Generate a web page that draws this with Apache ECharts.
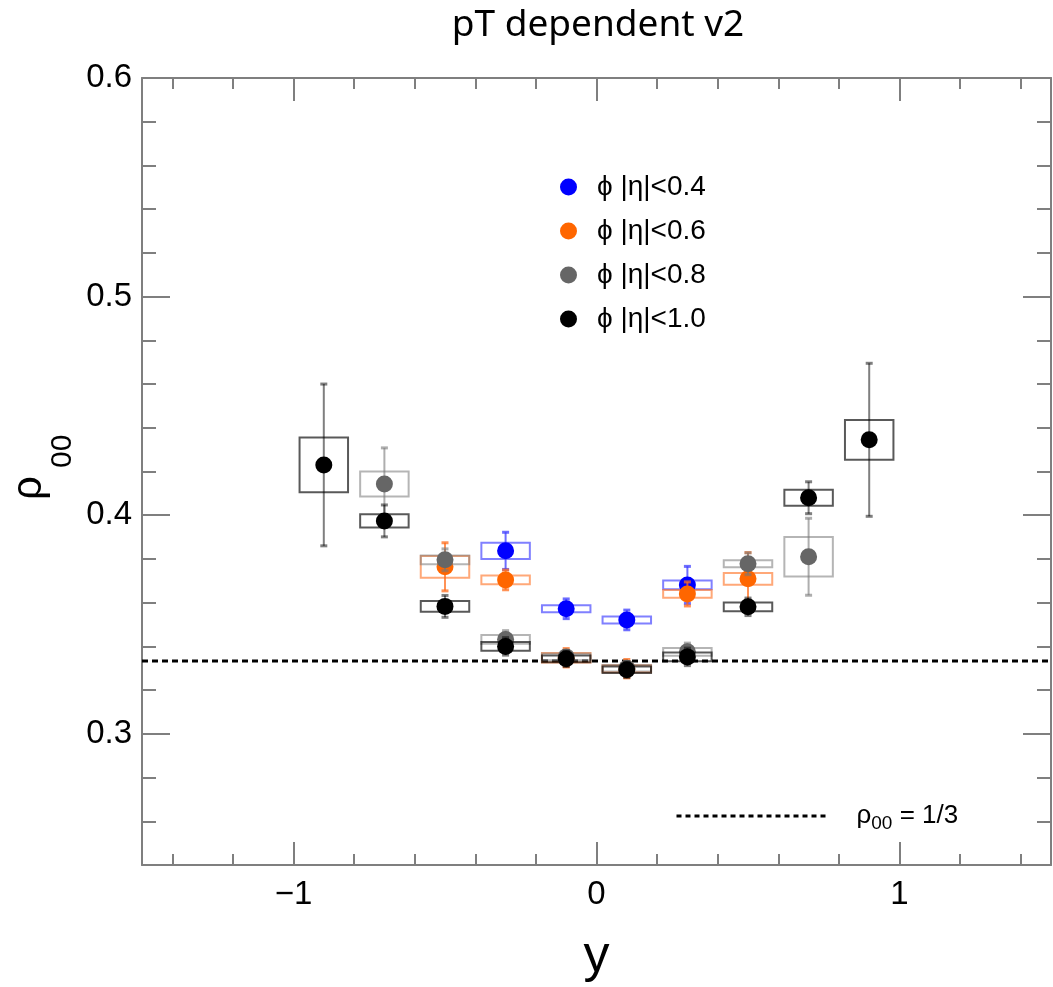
<!DOCTYPE html>
<html>
<head>
<meta charset="utf-8">
<script src="https://cdn.jsdelivr.net/npm/echarts@6/dist/echarts.min.js"></script>
<style>
html, body { margin: 0; padding: 0; background: #fff; }
#main { width: 1053px; height: 987px; }
</style>
</head>
<body>
<div id="main"></div>
<script>
// |eta| < 0.4
var xEta04 = [-0.3, -0.1, 0.1, 0.3];
var rhoEta04 = [0.3837, 0.3572, 0.3521, 0.3681];
var statEta04 = [0.0085, 0.0045, 0.0045, 0.0085];
var sysEta04 = [0.0037, 0.0016, 0.0016, 0.002];

// |eta| < 0.6
var xEta06 = [-0.5, -0.3, -0.1, 0.1, 0.3, 0.5];
var rhoEta06 = [0.3764, 0.3704, 0.3348, 0.3298, 0.3640, 0.3709];
var statEta06 = [0.011, 0.0045, 0.0042, 0.0042, 0.0055, 0.012];
var sysEta06 = [0.005, 0.002, 0.0022, 0.0016, 0.0018, 0.0027];

// |eta| < 0.8
var xEta08 = [-0.7, -0.5, -0.3, -0.1, 0.1, 0.3, 0.5, 0.7];
var rhoEta08 = [0.4143, 0.3796, 0.3432, 0.3352, 0.3300, 0.3375, 0.3778, 0.3810];
var statEta08 = [0.0165, 0.005, 0.004, 0.003, 0.003, 0.004, 0.005, 0.0176];
var sysEta08 = [0.0057, 0.002, 0.002, 0.0015, 0.0015, 0.0018, 0.0016, 0.009];

// |eta| < 1.0
var xEta10 = [-0.9, -0.7, -0.5, -0.3, -0.1, 0.1, 0.3, 0.5, 0.7, 0.9];
var rhoEta10 = [0.4230, 0.3974, 0.3583, 0.3400, 0.3343, 0.3293, 0.3352, 0.3581, 0.4080, 0.4345];
var statEta10 = [0.037, 0.0073, 0.005, 0.004, 0.0035, 0.0035, 0.004, 0.004, 0.0073, 0.035];
var sysEta10 = [0.0125, 0.003, 0.0025, 0.002, 0.0015, 0.0015, 0.002, 0.002, 0.0037, 0.0091];

// rho00 = 1/3 reference
var refX = [-1.5, 1.5];
var refRho = [1 / 3, 1 / 3];

// ticks
var xMajorTicks = [-1, 0, 1];
var xMinorTicks = [-1.4, -1.2, -0.8, -0.6, -0.4, -0.2, 0.2, 0.4, 0.6, 0.8, 1.2, 1.4];
var yMajorTicks = [0.3, 0.4, 0.5, 0.6];
var yMinorTicks = [0.26, 0.28, 0.32, 0.34, 0.36, 0.38, 0.42, 0.44, 0.46, 0.48, 0.52, 0.54, 0.56, 0.58];

var FONT = 'Liberation Sans';
var AXIS_COLOR = '#7f7f7f';
var BOX_HALF = 0.08; // half width of the systematic boxes (in y units)

function zip() {
    var cols = arguments;
    return cols[0].map(function (_, i) {
        var row = [];
        for (var k = 0; k < cols.length; k++) row.push(cols[k][i]);
        return row;
    });
}

function xAxisOf (position, ticks, len, withLine, withLabel) {
    return {
        type: 'value', position: position, min: -1.5, max: 1.5,
        axisLine: { show: withLine, onZero: false, lineStyle: { color: AXIS_COLOR, width: 2 } },
        axisTick: { show: true, inside: true, length: len, customValues: ticks,
            lineStyle: { color: AXIS_COLOR, width: 2 } },
        axisLabel: { show: withLabel, customValues: ticks, margin: 13, color: '#000',
            fontSize: 33, fontFamily: FONT,
            formatter: function (v) { return v < 0 ? '\u2212' + Math.abs(v) : String(v) } },
        splitLine: { show: false }
    }
}

function yAxisOf (position, ticks, len, withLine, withLabel) {
    return {
        type: 'value', position: position, min: 0.24, max: 0.6,
        axisLine: { show: withLine, onZero: false, lineStyle: { color: AXIS_COLOR, width: 2 } },
        axisTick: { show: true, inside: true, length: len, customValues: ticks,
            lineStyle: { color: AXIS_COLOR, width: 2 } },
        axisLabel: { show: withLabel, customValues: ticks, margin: 10, color: '#000',
            fontSize: 33, fontFamily: FONT,
            formatter: function (v) { return v.toFixed(1) } },
        splitLine: { show: false }
    }
}

// box (systematic) + bar (statistical) for one set
function errorSeries (name, xs, vals, stat, sys, boxColor, barColor, z) {
    return {
        name: name,
        type: 'custom',
        z: z,
        encode: { x: 0, y: 1 },
        data: zip(xs, vals, stat, sys),
        renderItem: function (params, api) {
            var x = api.value(0), v = api.value(1), e = api.value(2), s = api.value(3);
            var c = api.coord([x, v]);
            var top = api.coord([x, v + e]);
            var bot = api.coord([x, v - e]);
            var lt = api.coord([x - BOX_HALF, v + s]);
            var rb = api.coord([x + BOX_HALF, v - s]);
            return {
                type: 'group',
                children: [
                    { type: 'line', shape: { x1: c[0], y1: top[1], x2: c[0], y2: bot[1] },
                        style: { stroke: barColor, lineWidth: 2 } },
                    { type: 'line', shape: { x1: c[0] - 3.5, y1: top[1], x2: c[0] + 3.5, y2: top[1] },
                        style: { stroke: barColor, lineWidth: 3 } },
                    { type: 'line', shape: { x1: c[0] - 3.5, y1: bot[1], x2: c[0] + 3.5, y2: bot[1] },
                        style: { stroke: barColor, lineWidth: 3 } },
                    { type: 'rect', shape: { x: lt[0], y: lt[1], width: rb[0] - lt[0], height: rb[1] - lt[1] },
                        style: { fill: 'none', stroke: boxColor, lineWidth: 2 } }
                ]
            }
        }
    }
}

function pointSeries (name, xs, vals, color, z) {
    return {
        name: name,
        type: 'scatter',
        z: z,
        symbol: 'circle',
        symbolSize: 17,
        itemStyle: { color: color, opacity: 1 },
        data: zip(xs, vals)
    }
}

var names = ['\u03D5 |\u03B7|<0.4', '\u03D5 |\u03B7|<0.6', '\u03D5 |\u03B7|<0.8', '\u03D5 |\u03B7|<1.0'];

var myChart = echarts.init(document.getElementById('main'));
myChart.setOption({
    backgroundColor: '#fff',
    animation: false,
    title: {
        text: 'pT dependent v2',
        left: 593, top: 2, textAlign: 'center',
        textStyle: { fontSize: 37, fontWeight: 'normal', color: '#000', fontFamily: 'Noto Sans' }
    },
    grid: { left: 142, right: 2, top: 78, bottom: 122, containLabel: false, outerBoundsMode: 'none' },
    legend: [
        {
            data: names.map(function (n) { return { name: n, icon: 'circle' } }),
            orient: 'vertical',
            left: 560, top: 173, padding: 0,
            itemWidth: 17, itemHeight: 17, itemGap: 16,
            textStyle: { fontSize: 28, fontFamily: FONT, color: '#000', padding: [0, 0, 0, 15] },
            selectedMode: false
        },
        {
            data: ['rho00'],
            left: 675, top: 803, padding: 0,
            itemWidth: 150, itemHeight: 10,
            selectedMode: false,
            itemStyle: { opacity: 0 },
            lineStyle: { color: '#000', width: 3, type: [5, 4] },
            formatter: function () { return '{a|\u03C1}{b|00}{a| = 1/3}' },
            textStyle: {
                color: '#000', fontFamily: FONT, padding: [0, 0, 0, 25],
                rich: {
                    a: { fontSize: 26, fontFamily: FONT, color: '#000' },
                    b: { fontSize: 19, fontFamily: FONT, color: '#000', padding: [16, 0, 0, 0] }
                }
            }
        }
    ],
    xAxis: [
        Object.assign(xAxisOf('bottom', xMajorTicks, 23, true, true), {
            name: 'y', nameLocation: 'middle', nameGap: 66,
            nameTextStyle: { fontSize: 52, fontFamily: FONT, color: '#000' }
        }),
        xAxisOf('bottom', xMinorTicks, 11, false, false),
        xAxisOf('top', xMajorTicks, 23, true, false),
        xAxisOf('top', xMinorTicks, 11, false, false)
    ],
    yAxis: [
        yAxisOf('left', yMajorTicks, 28, true, true),
        yAxisOf('left', yMinorTicks, 14, false, false),
        yAxisOf('right', yMajorTicks, 28, true, false),
        yAxisOf('right', yMinorTicks, 14, false, false)
    ],
    graphic: [
        {
            type: 'group', x: 43, y: 500, rotation: Math.PI / 2,
            children: [
                { type: 'text', x: 0, y: -14,
                    style: { text: '\u03C1', font: '42px "Liberation Sans"', fill: '#000',
                        align: 'left', verticalAlign: 'middle' } },
                { type: 'text', x: 32, y: 20,
                    style: { text: '00', font: '30px "Liberation Sans"', fill: '#000',
                        align: 'left', verticalAlign: 'middle' } }
            ]
        }
    ],
    series: [
        pointSeries(names[0], xEta04, rhoEta04, '#0000ff', 11),
        pointSeries(names[1], xEta06, rhoEta06, '#ff6600', 13),
        pointSeries(names[2], xEta08, rhoEta08, '#666666', 15),
        pointSeries(names[3], xEta10, rhoEta10, '#000000', 17),
        {
            name: 'rho00',
            type: 'line',
            z: 5,
            symbol: 'none',
            silent: true,
            lineStyle: { color: '#000', width: 3, type: [6, 4] },
            data: zip(refX, refRho)
        },
        errorSeries(names[0], xEta04, rhoEta04, statEta04, sysEta04, 'rgba(60,60,255,0.65)', 'rgba(60,60,255,0.75)', 10),
        errorSeries(names[1], xEta06, rhoEta06, statEta06, sysEta06, 'rgba(255,110,30,0.6)', 'rgba(255,110,30,0.75)', 12),
        errorSeries(names[2], xEta08, rhoEta08, statEta08, sysEta08, 'rgba(120,120,120,0.55)', 'rgba(120,120,120,0.6)', 14),
        errorSeries(names[3], xEta10, rhoEta10, statEta10, sysEta10, 'rgba(0,0,0,0.65)', 'rgba(0,0,0,0.5)', 16)
    ]
});
</script>
</body>
</html>
